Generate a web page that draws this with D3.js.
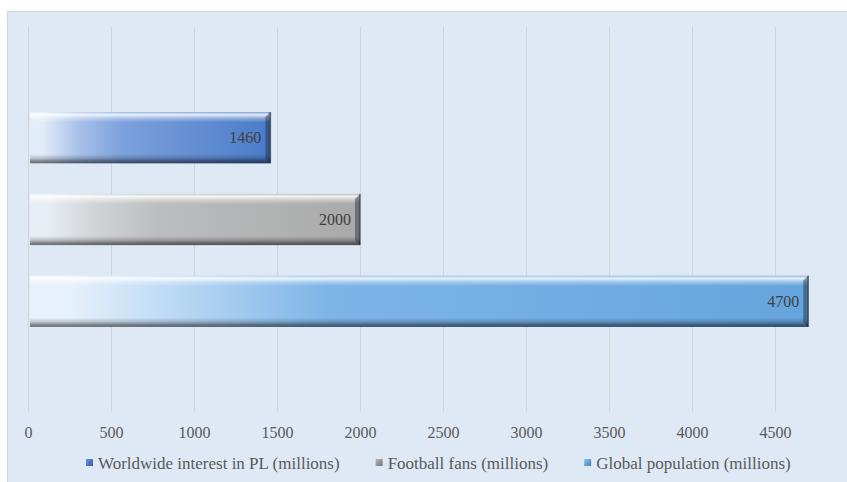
<!DOCTYPE html>
<html>
<head>
<meta charset="utf-8">
<script src="https://cdn.jsdelivr.net/npm/d3@7"></script>
<style>
  html, body { margin: 0; padding: 0; background: #ffffff; }
  svg { display: block; }
</style>
</head>
<body>
<svg id="chart" width="847" height="482"></svg>
<script>
// Series shown as horizontal bars (top to bottom)
const seriesNames = [
  "Worldwide interest in PL (millions)",
  "Football fans (millions)",
  "Global population (millions)"
];
const seriesValues = [1460, 2000, 4700];
const tickValues = [0, 500, 1000, 1500, 2000, 2500, 3000, 3500, 4000, 4500];

// Colour ramps per series: light left end -> mid -> saturated right end
const seriesRamps = [
  ["#e3edf9", "#a9c1ea", "#7da1dc", "#4a7bc9"],
  ["#e8eef4", "#d0d3d6", "#bcbebf", "#a9a9a9"],
  ["#e6f1fb", "#b7d6f3", "#7eb5e7", "#66a4de"]
];
const legendSwatch = ["#4b6fae", "#8a8a8a", "#5b96d0"];

const FONT = "'Liberation Serif', 'Times New Roman', serif";
const W = 847, H = 482;
const plot = { left: 28, right: 858, top: 27, bottom: 412 };

const svg = d3.select("#chart");
const defs = svg.append("defs");

// chart area background
svg.append("rect")
  .attr("x", 7.5).attr("y", 11.5)
  .attr("width", W + 10).attr("height", H + 10)
  .attr("fill", "#dee9f5")
  .attr("stroke", "#d4d4d4").attr("stroke-width", 1);

const x = d3.scaleLinear().domain([0, 5000]).range([plot.left, plot.right]);
const y = d3.scaleBand()
  .domain(seriesNames)
  .range([plot.top, plot.bottom])
  .paddingInner(0.374)
  .paddingOuter(1.04);

// vertical gridlines
svg.append("g")
  .selectAll("line")
  .data(tickValues)
  .join("line")
  .attr("x1", d => Math.round(x(d)) + 0.5)
  .attr("x2", d => Math.round(x(d)) + 0.5)
  .attr("y1", plot.top)
  .attr("y2", plot.bottom)
  .attr("stroke", "#d2d4d6")
  .attr("stroke-width", 1);

// tick labels
const xAxis = d3.axisBottom(x).tickValues(tickValues).tickFormat(d3.format("d"))
  .tickSize(0).tickPadding(0);
const axisG = svg.append("g")
  .attr("transform", `translate(0, 438)`)
  .call(xAxis)
  .attr("font-family", FONT)
  .attr("font-size", 16);
axisG.select(".domain").remove();
axisG.selectAll("text")
  .attr("y", 0)
  .attr("dy", 0)
  .attr("fill", "#595959");

// gradients
seriesNames.forEach((name, i) => {
  const g = defs.append("linearGradient")
    .attr("id", "fill" + i)
    .attr("x1", 0).attr("x2", 1).attr("y1", 0).attr("y2", 0);
  const ramp = seriesRamps[i];
  [[0, ramp[0]], [0.05, ramp[0]], [0.2, ramp[1]], [0.38, ramp[2]], [1, ramp[3]]]
    .forEach(([o, c]) => g.append("stop").attr("offset", o).attr("stop-color", c));
});
const bevel = defs.append("linearGradient")
  .attr("id", "bevel").attr("x1", 0).attr("x2", 0).attr("y1", 0).attr("y2", 1);
[
  [0, "#ffffff", 0.25], [0.05, "#ffffff", 0.85], [0.12, "#ffffff", 0.35], [0.2, "#ffffff", 0],
  [0.82, "#000000", 0], [0.9, "#000000", 0.18], [0.96, "#000000", 0.45], [1, "#000000", 0.55]
].forEach(([o, c, a]) => bevel.append("stop").attr("offset", o)
  .attr("stop-color", c).attr("stop-opacity", a));

const bars = seriesNames.map((name, i) => ({ name, value: seriesValues[i], i }));

const barG = svg.append("g").selectAll("g")
  .data(bars)
  .join("g");

barG.append("rect")
  .attr("x", x(0) + 2)
  .attr("y", d => y(d.name))
  .attr("width", d => x(d.value) - x(0) - 2)
  .attr("height", y.bandwidth())
  .attr("fill", d => `url(#fill${d.i})`);

barG.append("rect")
  .attr("x", x(0) + 2)
  .attr("y", d => y(d.name))
  .attr("width", d => x(d.value) - x(0) - 2)
  .attr("height", y.bandwidth())
  .attr("fill", "url(#bevel)");

// right-hand bevelled edge of each bar
const bv = 5;
barG.append("path")
  .attr("d", d => {
    const x1 = x(d.value), y0 = y(d.name), y1 = y0 + y.bandwidth();
    return `M${x1 - bv},${y0 + bv} L${x1},${y0} L${x1},${y1} L${x1 - bv},${y1 - bv} Z`;
  })
  .attr("fill", "#1e2a3a")
  .attr("fill-opacity", 0.45);
barG.append("path")
  .attr("d", d => {
    const x1 = x(d.value), y0 = y(d.name), y1 = y0 + y.bandwidth();
    return `M${x1},${y0} L${x1},${y1}`;
  })
  .attr("stroke", "#1e2a3a")
  .attr("stroke-opacity", 0.6)
  .attr("stroke-width", 1.5);

// value labels
barG.append("text")
  .attr("x", d => x(d.value) - 9)
  .attr("y", d => y(d.name) + y.bandwidth() / 2)
  .attr("dy", "0.35em")
  .attr("text-anchor", "end")
  .attr("fill", "#404040")
  .attr("font-family", FONT)
  .attr("font-size", 16)
  .text(d => d.value);

// legend
const legend = svg.append("g").attr("transform", "translate(0, 463)");
let lx = 86;
seriesNames.forEach((name, i) => {
  const item = legend.append("g").attr("transform", `translate(${lx},0)`);
  const sg = defs.append("linearGradient")
    .attr("id", "sw" + i).attr("x1", 0).attr("x2", 1).attr("y1", 0).attr("y2", 1);
  sg.append("stop").attr("offset", 0).attr("stop-color", d3.color(legendSwatch[i]).brighter(0.8));
  sg.append("stop").attr("offset", 1).attr("stop-color", d3.color(legendSwatch[i]).darker(0.5));
  item.append("rect")
    .attr("x", 0).attr("y", -4)
    .attr("width", 7).attr("height", 7)
    .attr("fill", `url(#sw${i})`);
  const t = item.append("text")
    .attr("x", 12).attr("y", 0).attr("dy", "0.35em")
    .attr("fill", "#595959")
    .attr("font-family", FONT)
    .attr("font-size", 17)
    .text(name);
  lx += 12 + t.node().getComputedTextLength() + 36;
});
</script>
</body>
</html>
